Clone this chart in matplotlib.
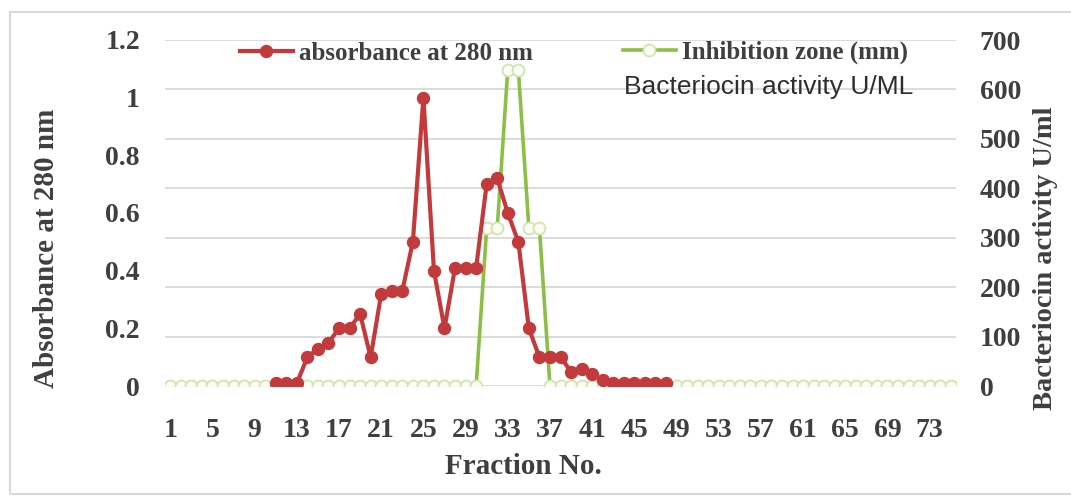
import numpy as np
import matplotlib
matplotlib.use("Agg")
import matplotlib.pyplot as plt
from matplotlib.lines import Line2D
from matplotlib.patches import Rectangle

# ---- data ----
fractions = list(range(1, 76))
absorbance = ([None] * 10 +
              [0.01, 0.01, 0.01, 0.10, 0.13, 0.15, 0.20, 0.20, 0.25, 0.10,
               0.32, 0.33, 0.33, 0.50, 1.00, 0.40, 0.20, 0.41, 0.41, 0.41,
               0.70, 0.72, 0.60, 0.50, 0.20, 0.10, 0.10, 0.10, 0.05, 0.06,
               0.04, 0.02, 0.01, 0.01, 0.01, 0.01, 0.01, 0.01] +
              [None] * 27)
activity = ([0] * 30 + [320, 320, 640, 640, 320, 320] + [0] * 39)
xtick_vals = list(range(1, 76, 4))
left_ticks = [0, 0.2, 0.4, 0.6, 0.8, 1.0, 1.2]
left_labels = ["0", "0.2", "0.4", "0.6", "0.8", "1", "1.2"]
right_ticks = [0, 100, 200, 300, 400, 500, 600, 700]

absorbance = np.array([np.nan if v is None else v for v in absorbance], dtype=float)
activity = np.array(activity, dtype=float)

RED = "#C23A3C"
GREEN = "#8CBF46"
TXT = "#3F3F3F"
SERIF = "Liberation Serif"

W, H = 1071, 499
fig = plt.figure(figsize=(W / 100, H / 100), dpi=100)
fig.patch.set_facecolor("white")

# chart border
fig.add_artist(Rectangle((10 / W, 1 - 494 / H), 1.2, (494 - 12) / H,
                         transform=fig.transFigure, fill=False,
                         edgecolor="#D9D9D9", lw=1.5))

rect = [165 / W, 1 - 386 / H, (956 - 165) / W, (386 - 40) / H]
ax2 = fig.add_axes(rect)          # secondary axis drawn underneath
ax = fig.add_axes(rect, sharex=ax2)
ax2.yaxis.tick_right()
ax.set_zorder(3)
ax.patch.set_visible(False)

# grid on bottom axis
ax2.set_ylim(0, 700)
ax2.set_yticks(right_ticks)
ax2.grid(axis="y", color="#D9D9D9", lw=1.3)
ax2.set_axisbelow(True)

ax2.plot(fractions, activity, color=GREEN, lw=2.6, marker="o", ms=8.6,
         mfc="#FBFDF2", mec="#D3E2B3", mew=1.3, zorder=3)

ax.plot(fractions, absorbance, color=RED, lw=3.0, marker="o", ms=8.6,
        mfc=RED, mec=RED, zorder=4)

ax.set_xlim(0.5, 75.5)
ax.set_ylim(0, 1.2)
ax.set_yticks(left_ticks)
ax.set_yticklabels(left_labels)
ax.set_xticks(xtick_vals)
ax.set_xticklabels([str(v) for v in xtick_vals])

for a in (ax, ax2):
    for s in a.spines.values():
        s.set_visible(False)

ax.tick_params(axis="y", length=0, pad=18, labelsize=20, labelcolor=TXT)
ax.tick_params(axis="x", length=0, pad=23, labelsize=20, labelcolor=TXT)
ax2.tick_params(axis="y", length=0, pad=17, labelsize=20, labelcolor=TXT,
                labelleft=False, labelright=True)
ax2.tick_params(axis="x", length=0, labelbottom=False)
for lab in ax.get_xticklabels() + ax.get_yticklabels() + ax2.get_yticklabels():
    lab.set_fontfamily(SERIF)
    lab.set_fontweight("bold")

# axis titles
fig.text(47 / W, 1 - 248 / H, "Absorbance at 280 nm", rotation=90,
         ha="center", va="center", fontsize=21, fontfamily=SERIF,
         fontweight="bold", color=TXT)
fig.text(1046 / W, 1 - 258 / H, "Bacteriocin activity U/ml", rotation=90,
         ha="center", va="center", fontsize=20.5, fontfamily=SERIF,
         fontweight="bold", color=TXT)
fig.text(523 / W, 1 - 467 / H, "Fraction No.", ha="center", va="center",
         fontsize=21, fontfamily=SERIF, fontweight="bold", color=TXT)

# legends
h_red = Line2D([], [], color=RED, lw=3.0, marker="o", ms=8.6, mfc=RED, mec=RED)
h_green = Line2D([], [], color=GREEN, lw=2.6, marker="o", ms=8.6,
                 mfc="#FBFDF2", mec="#D3E2B3", mew=1.3)
leg_kw = dict(frameon=False, loc="center left", borderpad=0, borderaxespad=0,
              handlelength=2.1, handletextpad=0.25,
              prop={"family": SERIF, "weight": "bold", "size": 18})
leg1 = ax.legend([h_red], ["absorbance at 280 nm"],
                 bbox_to_anchor=(240 / W, 1 - 53 / H),
                 bbox_transform=fig.transFigure, **leg_kw)
for t in leg1.get_texts():
    t.set_color(TXT)
ax.add_artist(leg1)
leg2 = ax.legend([h_green], ["Inhibition zone (mm)"],
                 bbox_to_anchor=(623 / W, 1 - 52 / H),
                 bbox_transform=fig.transFigure, **leg_kw)
for t in leg2.get_texts():
    t.set_color(TXT)

fig.text(624 / W, 1 - 87 / H, "Bacteriocin activity U/ML", ha="left",
         va="center", fontsize=19, fontfamily="Liberation Sans", color="#2E2E2E")

fig.savefig("out.png", dpi=100, facecolor="white")
